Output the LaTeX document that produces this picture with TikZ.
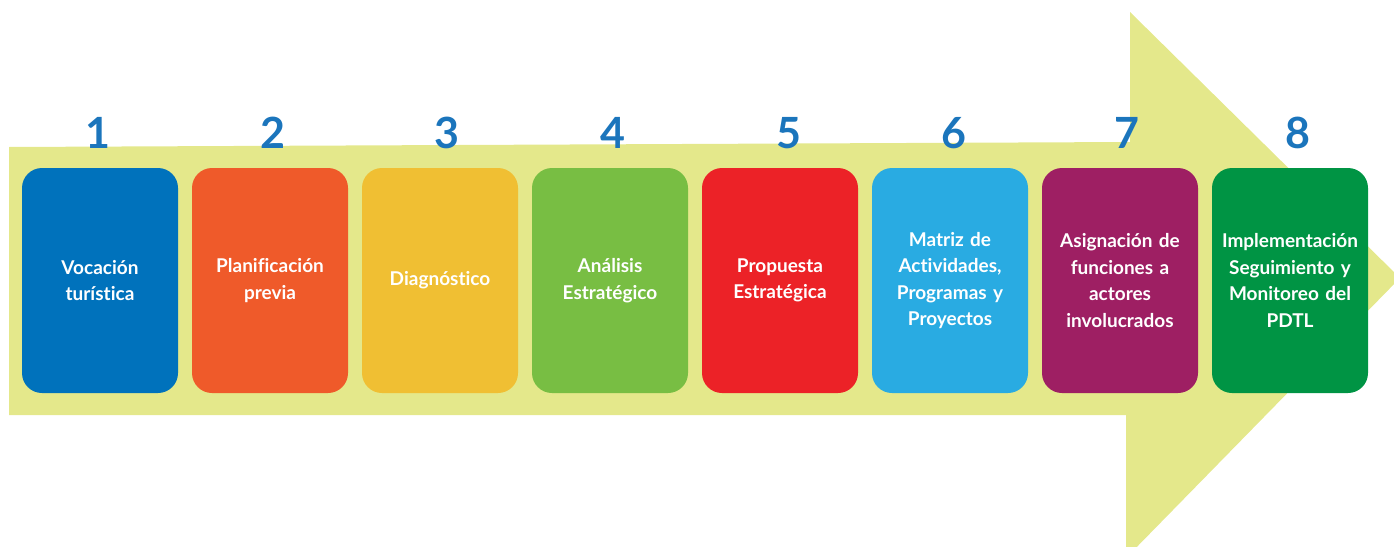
\documentclass[tikz,border=0pt]{standalone}
\usepackage{fontspec}
\setmainfont{Lato}[Ligatures=CommonOff]
\definecolor{arrowc}{HTML}{E4E88B}
\definecolor{numc}{HTML}{1B75BC}
\definecolor{c1}{HTML}{0072BC}
\definecolor{c2}{HTML}{EF5A2A}
\definecolor{c3}{HTML}{F0BF33}
\definecolor{c4}{HTML}{78BE43}
\definecolor{c5}{HTML}{EC2227}
\definecolor{c6}{HTML}{29ABE2}
\definecolor{c7}{HTML}{9E1F63}
\definecolor{c8}{HTML}{009444}
\begin{document}
\begin{tikzpicture}[x=1pt,y=-1pt,
  stepbox/.style={rounded corners=20pt, minimum width=156pt, minimum height=225pt,
    inner sep=0pt, text width=154pt, align=center, text=white,
    font=\bfseries\fontsize{19}{26.5}\selectfont},
  num/.style={text=numc, font=\bfseries\fontsize{43}{43}\selectfont, inner sep=0pt, anchor=base}]
\useasboundingbox (0,0) rectangle (1394,546);
\begin{scope}
\clip (0,0) rectangle (1394,546);
\fill[arrowc] (9,147) -- (1130,142) -- (1130,12) -- (1400,278) -- (1126,558) -- (1126,415) -- (9,415) -- cycle;
\end{scope}
\node[stepbox, fill=c1] (b1) at (100,280.5) {Vocación\\turística};
\node[stepbox, fill=c2] (b2) at (270,280.5) {Planificación\\previa};
\node[stepbox, fill=c3] (b3) at (440,280.5) {Diagnóstico};
\node[stepbox, fill=c4] (b4) at (610,280.5) {Análisis\\Estratégico};
\node[stepbox, fill=c5] (b5) at (780,280.5) {Propuesta\\Estratégica};
\node[stepbox, fill=c6] (b6) at (950,280.5) {Matriz de\\Actividades,\\Programas y\\Proyectos};
\node[stepbox, fill=c7] (b7) at (1120,280.5) {Asignación de\\funciones a\\actores\\involucrados};
\node[stepbox, fill=c8] (b8) at (1290,280.5) {Implementación\\Seguimiento y\\Monitoreo del\\PDTL};
\node[num] (n1) at (98,148) {1};
\node[num] (n2) at (273,148) {2};
\node[num] (n3) at (447,148) {3};
\node[num] (n4) at (613,148) {4};
\node[num] (n5) at (789,148) {5};
\node[num] (n6) at (954,148) {6};
\node[num] (n7) at (1127,148) {7};
\node[num] (n8) at (1298,148) {8};
\end{tikzpicture}
\end{document}
